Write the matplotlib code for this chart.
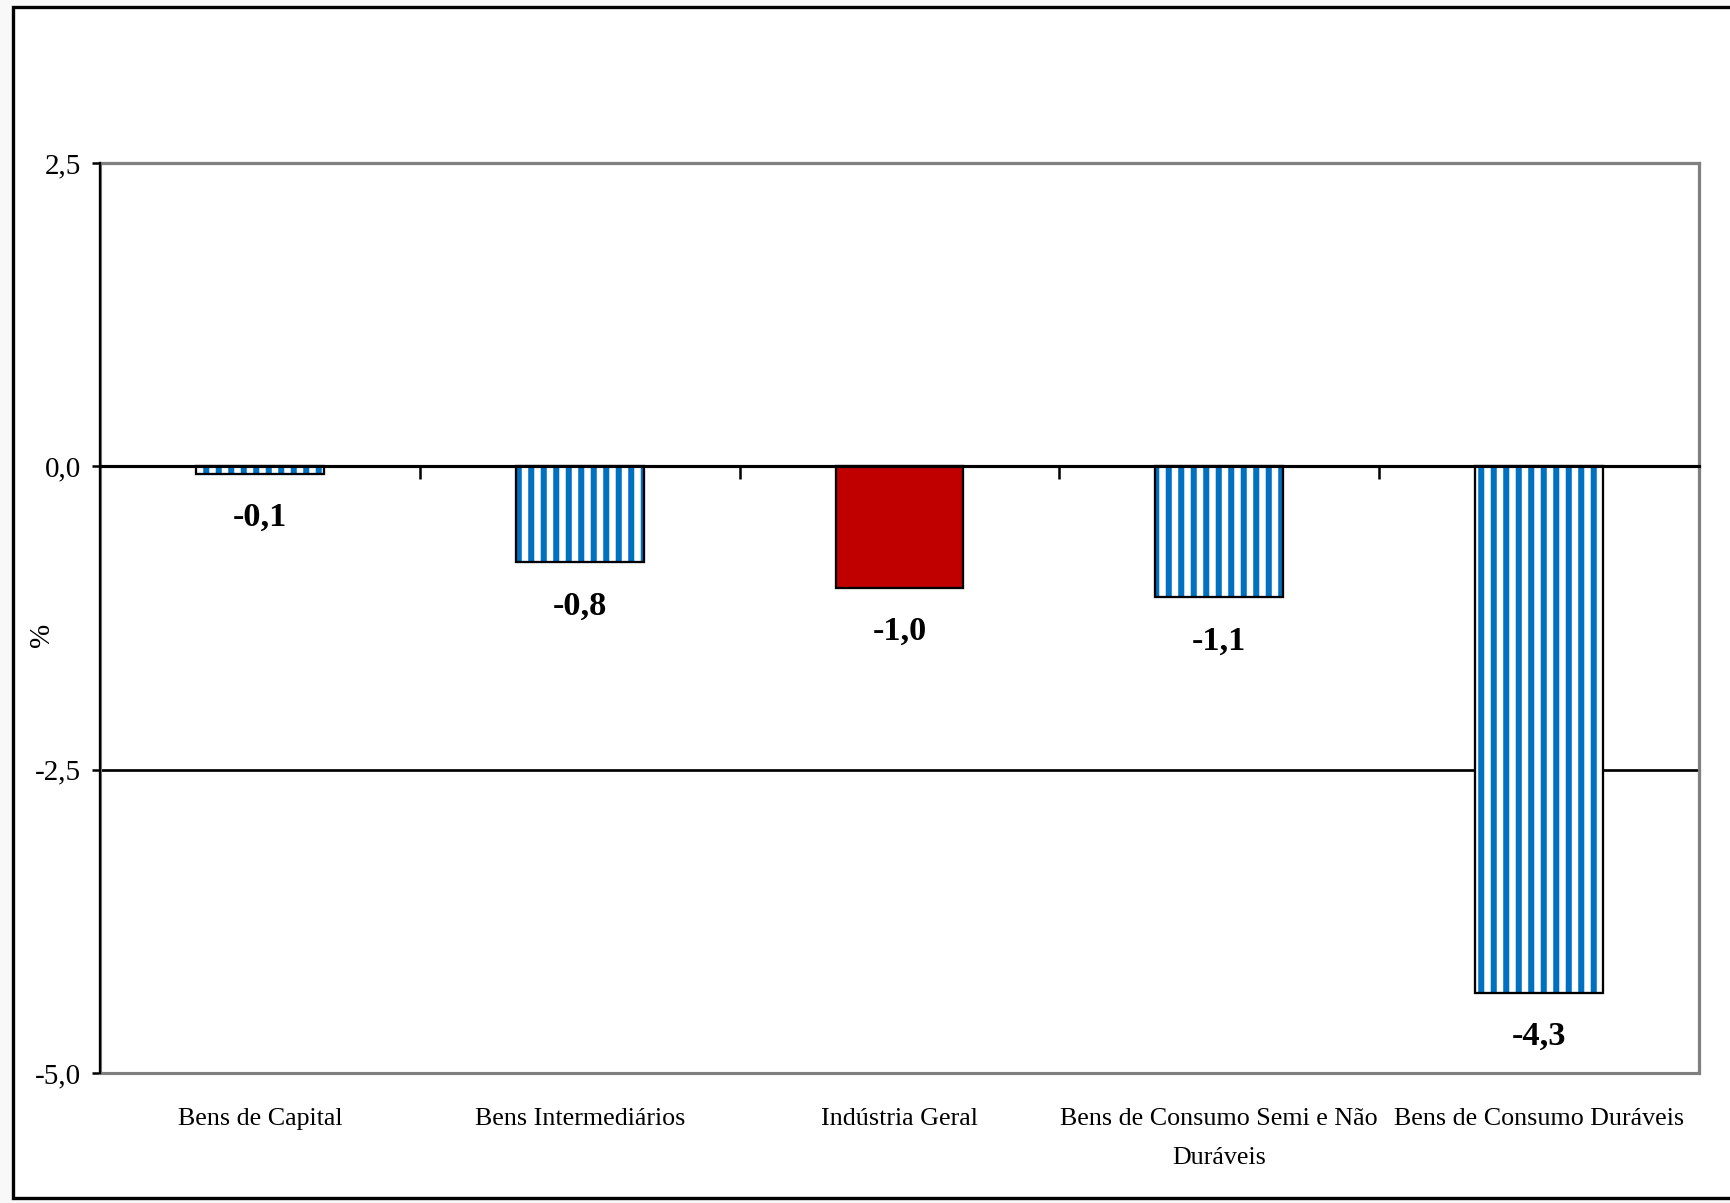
import matplotlib
matplotlib.use("Agg")
import matplotlib.pyplot as plt
from matplotlib.patches import Rectangle
from matplotlib.ticker import FixedLocator, FuncFormatter

# data
categories = ["Bens de Capital", "Bens Intermediários", "Indústria Geral",
              "Bens de Consumo Semi e Não\nDuráveis", "Bens de Consumo Duráveis"]
values = [-0.06, -0.79, -1.0, -1.08, -4.34]
highlight = "Indústria Geral"

BLUE = "#0070C0"
RED = "#C00000"
GRAY = "#808080"

plt.rcParams["font.family"] = ["Liberation Serif", "DejaVu Serif"]
plt.rcParams["hatch.linewidth"] = 2.9

fig = plt.figure(figsize=(1730 / 150, 1203 / 150), dpi=150, facecolor="#f8f8f8")

# outer chart frame (right side runs off the picture, like the original)
fig.patches.append(Rectangle((13 / 1730, 1 - 1198 / 1203), 1.1, (1198 - 7) / 1203,
                             transform=fig.transFigure, facecolor="white",
                             edgecolor="black", linewidth=1.6, zorder=-1))

ax = fig.add_axes([100 / 1730, 1 - 1073 / 1203, 1599 / 1730, 910 / 1203])
ax.set_facecolor("white")

for i, (cat, v) in enumerate(zip(categories, values)):
    if cat == highlight:
        ax.bar(i, v, width=0.4, color=RED, edgecolor="black", linewidth=1.1, zorder=3)
    else:
        ax.bar(i, v, width=0.4, color="white", edgecolor=BLUE, hatch="||",
               linewidth=0, zorder=3)
        ax.bar(i, v, width=0.4, fill=False, edgecolor="black", linewidth=1.1, zorder=4)
    ax.annotate(f"{v:.1f}".replace(".", ","), (i, v), xytext=(0, -21),
                textcoords="offset points", ha="center", va="center",
                fontsize=16.5, fontweight="bold", zorder=5)

ax.set_xlim(-0.5, len(categories) - 0.5)
ax.set_ylim(-5, 2.5)
ax.yaxis.set_major_locator(FixedLocator([-5, -2.5, 0, 2.5]))
ax.yaxis.set_major_formatter(FuncFormatter(lambda y, _: f"{y:.1f}".replace(".", ",")))
ax.tick_params(axis="y", direction="out", length=4, width=1.2, pad=5,
               labelsize=14, colors="black")
ax.yaxis.grid(True, color="black", linewidth=1.3, zorder=1)
ax.set_axisbelow(True)

# category axis sits on the zero line, labels stay at the bottom
ax.spines["bottom"].set_position(("data", 0))
ax.spines["bottom"].set_linewidth(1.5)
ax.spines["bottom"].set_zorder(6)
ax.set_xticks([i - 0.5 for i in range(len(categories) + 1)])
ax.set_xticklabels([])
ax.tick_params(axis="x", direction="out", length=6, width=1.2)
for s in ("top", "right"):
    ax.spines[s].set_color(GRAY)
    ax.spines[s].set_linewidth(1.5)
ax.spines["left"].set_linewidth(1.1)
ax.spines["left"].set_zorder(6)
ax.add_patch(Rectangle((0, 0), 1, 1, transform=ax.transAxes, fill=False,
                       edgecolor=GRAY, linewidth=1.5, clip_on=False, zorder=2))

for i, cat in enumerate(categories):
    ax.annotate(cat, (i, 0), xycoords=ax.get_xaxis_transform(), xytext=(0, -17),
                textcoords="offset points", ha="center", va="top",
                multialignment="center", fontsize=12.5, linespacing=1.95)

ax.set_ylabel("%", fontsize=14)
ax.yaxis.set_label_coords(-0.028, 0.481)

fig.savefig("out.png", dpi=150, facecolor=fig.get_facecolor())
